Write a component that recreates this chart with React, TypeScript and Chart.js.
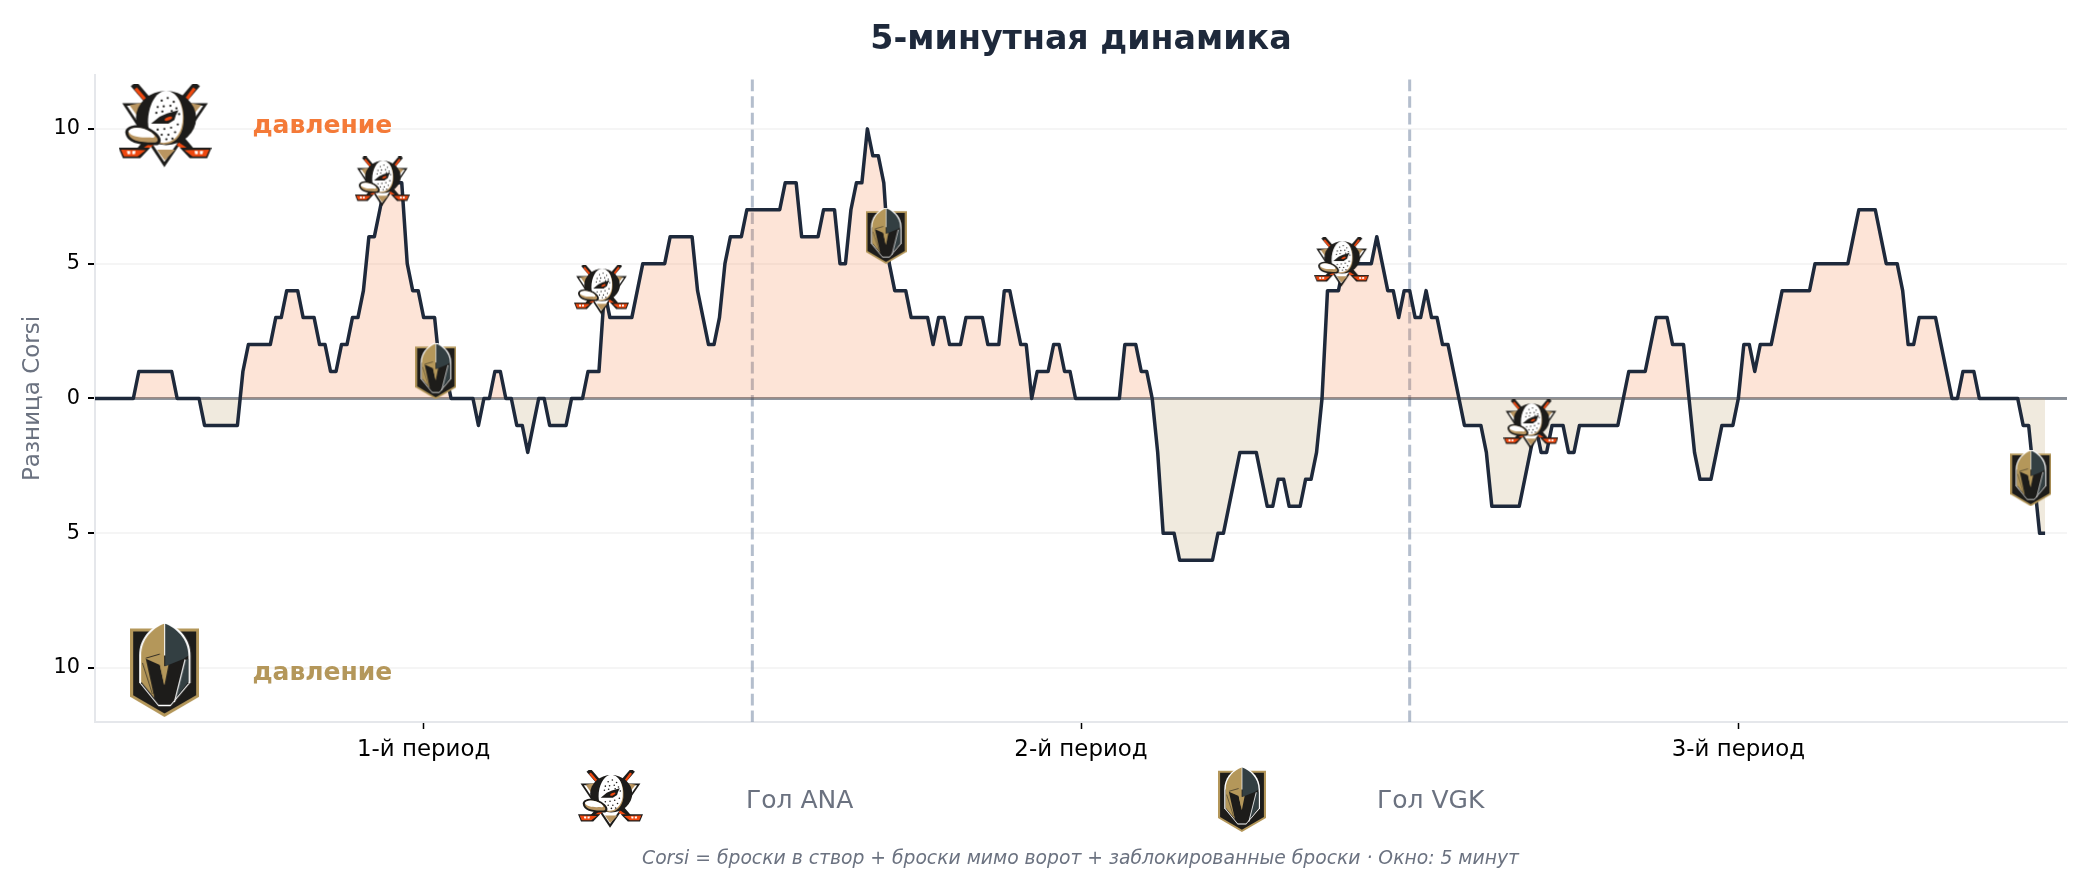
import React, { useEffect, useRef } from "react";
import { Chart, registerables } from "chart.js";

Chart.register(...registerables);

const TITLE = "5-минутная динамика";
const Y_TITLE = "Разница Corsi";
const FOOTNOTE = "Corsi = броски в створ + броски мимо ворот + заблокированные броски · Окно: 5 минут";
const PRESSURE = "давление";
const LEGEND_ANA = "Гол ANA";
const LEGEND_VGK = "Гол VGK";

const SAMPLES_PER_MINUTE = 6;
const corsiDiff = [
  0,0,0,0,0,0,0,0,1,1,1,1,1,1,1,0,0,0,0,0,
  -1,-1,-1,-1,-1,-1,-1,1,2,2,2,2,2,3,3,4,4,4,3,3,
  3,2,2,1,1,2,2,3,3,4,6,6,7,8,8,8,8,5,4,4,
  3,3,3,1,1,0,0,0,0,0,-1,0,0,1,1,0,0,-1,-1,-2,
  -1,0,0,-1,-1,-1,-1,0,0,0,1,1,1,4,3,3,3,3,3,4,
  5,5,5,5,5,6,6,6,6,6,4,3,2,2,3,5,6,6,6,7,
  7,7,7,7,7,7,8,8,8,6,6,6,6,7,7,7,5,5,7,8,
  8,10,9,9,8,5,4,4,4,3,3,3,3,2,3,3,2,2,2,3,
  3,3,3,2,2,2,4,4,3,2,2,0,1,1,1,2,2,1,1,0,
  0,0,0,0,0,0,0,0,2,2,2,1,1,0,-2,-5,-5,-5,-6,-6,
  -6,-6,-6,-6,-6,-5,-5,-4,-3,-2,-2,-2,-2,-3,-4,-4,-3,-3,-4,-4,
  -4,-3,-3,-2,0,4,4,4,5,5,5,5,5,5,6,5,4,4,3,4,
  4,3,3,4,3,3,2,2,1,0,-1,-1,-1,-1,-2,-4,-4,-4,-4,-4,
  -4,-3,-2,-1,-2,-2,-1,-1,-1,-2,-2,-1,-1,-1,-1,-1,-1,-1,-1,0,
  1,1,1,1,2,3,3,3,2,2,2,0,-2,-3,-3,-3,-2,-1,-1,-1,
  0,2,2,1,2,2,2,3,4,4,4,4,4,4,5,5,5,5,5,5,
  5,6,7,7,7,7,6,5,5,5,4,2,2,3,3,3,3,2,1,0,
  0,1,1,1,0,0,0,0,0,0,0,0,-1,-1,-3,-5,-5,
];

const anaGoalMinutes = [8.74, 15.41, 37.93, 43.69];
const anaGoalValues = [8.05, 4.04, 5.06, -0.96];
const vgkGoalMinutes = [10.37, 24.07, 58.9];
const vgkGoalValues = [1.01, 6.03, -2.96];

const periodBreaks = [20, 40];
const periodTickMinutes = [10, 30, 50];
const periodLabels = ["1-й период", "2-й период", "3-й период"];
const yTickValues = [-10, -5, 0, 5, 10];

const ANA = "#F47A38";
const VGK = "#B4975A";
const INK = "#1e293b";
const MUTED = "#6b7280";
const FONT = '"DejaVu Sans"';

type Ctx = CanvasRenderingContext2D;

function poly(c: Ctx, pts: number[], fill: string) {
  c.beginPath();
  c.moveTo(pts[0], pts[1]);
  for (let i = 2; i < pts.length; i += 2) c.lineTo(pts[i], pts[i + 1]);
  c.closePath();
  c.fillStyle = fill;
  c.fill();
}
function seg(c: Ctx, x0: number, y0: number, x1: number, y1: number, w: number, col: string) {
  c.beginPath();
  c.moveTo(x0, y0);
  c.lineTo(x1, y1);
  c.lineWidth = w;
  c.strokeStyle = col;
  c.lineCap = "butt";
  c.stroke();
}

function drawDuck(c: Ctx) {
  const K = "#1d1c1a", O = "#F0480F", T = "#b99560", W = "#ffffff";
  c.translate(-55, -24);
  c.scale(1, 0.94);
  // triangle behind
  poly(c, [66, 86, 322, 86, 192, 285], K);
  poly(c, [80, 94, 308, 94, 192, 268], W);
  poly(c, [88, 92, 128, 84, 110, 125], T);
  poly(c, [262, 84, 302, 92, 278, 122], T);
  poly(c, [170, 230, 224, 230, 193, 264], T);
  // sticks
  seg(c, 100, 26, 275, 238, 22, K);
  seg(c, 290, 26, 115, 238, 22, K);
  seg(c, 106, 40, 158, 104, 10, O);
  seg(c, 282, 40, 240, 100, 10, O);
  seg(c, 232, 212, 272, 240, 11, O);
  seg(c, 156, 212, 118, 240, 11, O);
  // blades
  poly(c, [55, 224, 150, 224, 120, 257, 68, 257], K);
  poly(c, [62, 230, 136, 232, 112, 251, 71, 251], O);
  poly(c, [80, 234, 90, 234, 90, 244, 82, 244], W);
  poly(c, [96, 234, 106, 234, 104, 244, 96, 244], W);
  poly(c, [333, 224, 238, 224, 268, 257, 320, 257], K);
  poly(c, [326, 230, 252, 232, 276, 251, 317, 251], O);
  poly(c, [282, 234, 292, 234, 292, 244, 284, 244], W);
  poly(c, [298, 234, 308, 234, 306, 244, 298, 244], W);
  // disc
  c.beginPath();
  c.ellipse(197, 132, 90, 84, 0, 0, Math.PI * 2);
  c.fillStyle = K;
  c.fill();
  // egg
  const egg = (dx: number, dy: number, col: string) => {
    c.beginPath();
    c.moveTo(200 + dx, 52 + dy);
    c.bezierCurveTo(238 + dx, 54 + dy, 254 + dx, 105 + dy, 249 + dx, 150 + dy);
    c.bezierCurveTo(244 + dx, 195 + dy, 216 + dx, 215 + dy, 190 + dx, 214 + dy);
    c.bezierCurveTo(164 + dx, 212 + dy, 146 + dx, 185 + dy, 146 + dx, 150 + dy);
    c.bezierCurveTo(146 + dx, 100 + dy, 168 + dx, 54 + dy, 200 + dx, 52 + dy);
    c.closePath();
    c.fillStyle = col;
    c.fill();
  };
  egg(0, 0, T);
  egg(-3, -5, W);
  // bill
  c.beginPath();
  c.moveTo(75, 176);
  c.bezierCurveTo(78, 150, 125, 148, 155, 168);
  c.bezierCurveTo(180, 184, 190, 205, 172, 216);
  c.bezierCurveTo(125, 218, 78, 212, 75, 176);
  c.closePath();
  c.fillStyle = K;
  c.fill();
  c.beginPath();
  c.moveTo(84, 178);
  c.bezierCurveTo(88, 158, 125, 158, 152, 176);
  c.bezierCurveTo(172, 190, 178, 204, 165, 208);
  c.bezierCurveTo(125, 208, 88, 204, 84, 178);
  c.closePath();
  c.fillStyle = T;
  c.fill();
  c.beginPath();
  c.moveTo(84, 174);
  c.bezierCurveTo(90, 158, 125, 158, 152, 176);
  c.bezierCurveTo(168, 188, 165, 196, 150, 192);
  c.bezierCurveTo(125, 194, 92, 192, 84, 174);
  c.closePath();
  c.fillStyle = W;
  c.fill();
  // brow and eye
  poly(c, [152, 150, 178, 128, 200, 118, 234, 108, 226, 124, 222, 138, 204, 150, 176, 150], K);
  c.beginPath();
  c.ellipse(204, 134, 12, 5, -0.4, 0, Math.PI * 2);
  c.fillStyle = O;
  c.fill();
  // freckles
  c.fillStyle = K;
  const spots = [
    [184, 78], [202, 70], [220, 82], [172, 98], [190, 96], [210, 94], [228, 102], [168, 116],
    [186, 112], [214, 110], [236, 120], [172, 168], [192, 166], [212, 162], [232, 152], [184, 184],
    [204, 184], [224, 176], [198, 198], [216, 196],
  ];
  for (const s of spots) {
    c.beginPath();
    c.arc(s[0], s[1], 3.4, 0, Math.PI * 2);
    c.fill();
  }
}

function drawKnight(c: Ctx) {
  const K = "#1d1c1a", G = "#B4975A", S = "#333F42", W = "#ffffff";
  c.translate(-15, -22);
  poly(c, [15, 38, 222, 38, 222, 240, 118, 300, 15, 240], G);
  poly(c, [24, 47, 213, 47, 213, 236, 118, 290, 24, 236], K);
  // white halo of the helmet
  c.beginPath();
  c.moveTo(118, 18);
  c.bezierCurveTo(80, 32, 42, 65, 42, 118);
  c.lineTo(42, 198);
  c.lineTo(100, 268);
  c.lineTo(136, 268);
  c.lineTo(196, 198);
  c.lineTo(196, 118);
  c.bezierCurveTo(196, 65, 158, 32, 118, 18);
  c.closePath();
  c.fillStyle = W;
  c.fill();
  // inner black mass under the visor
  poly(c, [48, 118, 190, 118, 190, 200, 136, 264, 100, 264, 48, 200], K);
  // dome, gold half
  c.beginPath();
  c.moveTo(117, 24);
  c.bezierCurveTo(84, 36, 48, 68, 48, 118);
  c.lineTo(48, 196);
  c.lineTo(88, 244);
  c.lineTo(62, 128);
  c.lineTo(104, 146);
  c.lineTo(117, 206);
  c.closePath();
  c.fillStyle = G;
  c.fill();
  // dome, slate half
  c.beginPath();
  c.moveTo(120, 24);
  c.bezierCurveTo(152, 36, 190, 68, 190, 118);
  c.lineTo(176, 128);
  c.lineTo(130, 146);
  c.lineTo(120, 150);
  c.closePath();
  c.fillStyle = S;
  c.fill();
  // nose guard
  poly(c, [104, 146, 120, 150, 130, 146, 118, 206], G);
  // right cheek
  poly(c, [190, 128, 190, 196, 150, 246, 180, 132], S);
  seg(c, 180, 130, 148, 256, 3.5, W);
  // thin shading on the gold
  seg(c, 62, 126, 104, 114, 2.5, K);
  seg(c, 52, 140, 82, 232, 2, K);
}

function makeLogo(draw: (c: Ctx) => void, w: number, h: number, bw: number, bh: number) {
  const cv = document.createElement("canvas");
  cv.width = w;
  cv.height = h;
  const c = cv.getContext("2d") as Ctx;
  c.scale(w / bw, h / bh);
  draw(c);
  return cv;
}
const duckLogo = (w: number, h: number) => makeLogo(drawDuck, w, h, 278, 245);
const knightLogo = (w: number, h: number) => makeLogo(drawKnight, w, h, 207, 278);

export default function App() {
  const ref = useRef<HTMLCanvasElement | null>(null);

  useEffect(() => {
    if (!ref.current) return;
    const overlay = {
      id: "overlay",
      afterDraw(chart: any) {
        const c: Ctx = chart.ctx;
        const { x, y } = chart.scales;
        c.save();
        c.textBaseline = "middle";
        c.textAlign = "left";
        c.font = `bold 25px ${FONT}`;
        c.fillStyle = ANA;
        c.fillText(PRESSURE, x.getPixelForValue(4.79), y.getPixelForValue(10.1));
        c.fillStyle = VGK;
        c.fillText(PRESSURE, x.getPixelForValue(4.79), y.getPixelForValue(-10.2));
        c.font = `25px ${FONT}`;
        c.fillStyle = MUTED;
        c.fillText(LEGEND_ANA, 746, 801);
        c.fillText(LEGEND_VGK, 1377, 801);
        c.textAlign = "center";
        c.font = `italic 18.75px ${FONT}`;
        c.fillText(FOOTNOTE, 1080.5, 859);
        const d = duckLogo(65, 58);
        c.drawImage(d, 578, 770);
        const k = knightLogo(48, 65);
        c.drawImage(k, 1218, 767);
        c.restore();
      },
    };

    const chart = new Chart(ref.current, {
      type: "line",
      plugins: [overlay],
      data: {
        datasets: [
          {
            type: "scatter",
            label: "Гол ANA",
            data: anaGoalMinutes.map((m, i) => ({ x: m, y: anaGoalValues[i] })),
            pointStyle: duckLogo(55, 50),
            pointRadius: 10,
            showLine: false,
            clip: false,
            order: 0,
          },
          {
            type: "scatter",
            label: "Гол VGK",
            data: vgkGoalMinutes.map((m, i) => ({ x: m, y: vgkGoalValues[i] })),
            pointStyle: knightLogo(41, 56),
            pointRadius: 10,
            showLine: false,
            clip: false,
            order: 0,
          },
          {
            type: "scatter",
            label: "ANA",
            data: [{ x: 2.13, y: 10.12 }],
            pointStyle: duckLogo(93, 84),
            pointRadius: 10,
            showLine: false,
            order: 0,
          },
          {
            type: "scatter",
            label: "VGK",
            data: [{ x: 2.12, y: -10.07 }],
            pointStyle: knightLogo(69, 94),
            pointRadius: 10,
            showLine: false,
            order: 0,
          },
          {
            label: "Corsi",
            data: corsiDiff.map((v, i) => ({ x: i / SAMPLES_PER_MINUTE, y: v })),
            borderColor: INK,
            borderWidth: 3.5,
            borderJoinStyle: "round",
            pointRadius: 0,
            tension: 0,
            fill: {
              target: { value: 0 },
              above: "rgba(244,122,56,0.2)",
              below: "rgba(180,151,90,0.2)",
            },
            order: 1,
          },
          {
            label: "Ноль",
            data: [{ x: 0, y: 0 }, { x: 60, y: 0 }],
            borderColor: "rgba(30,41,59,0.5)",
            borderWidth: 3,
            pointRadius: 0,
            order: 2,
          },
          ...periodBreaks.map((m) => ({
            label: "Период",
            data: [{ x: m, y: -12 }, { x: m, y: 12 }],
            borderColor: "rgba(148,163,184,0.7)",
            borderWidth: 3,
            borderDash: [11.6, 5],
            pointRadius: 0,
            order: 3,
          })),
        ] as any,
      },
      options: {
        responsive: false,
        devicePixelRatio: 1,
        animation: false,
        layout: { padding: { left: 0, right: 26, top: 0, bottom: 118 } },
        plugins: {
          legend: { display: false },
          tooltip: { enabled: false },
          title: {
            display: true,
            text: TITLE,
            color: INK,
            fullSize: false,
            font: { family: FONT, size: 33.3, weight: "bold" },
            padding: { top: 20, bottom: 15 },
          },
        },
        scales: {
          x: {
            type: "linear",
            min: 0,
            max: 60,
            afterFit: (s: any) => { s.height = 50; },
            afterBuildTicks: (s: any) => { s.ticks = periodTickMinutes.map((value) => ({ value })); },
            grid: { drawOnChartArea: false, tickColor: "#000", tickWidth: 1.5, tickLength: 7 },
            border: { color: "#e5e7eb", width: 2 },
            ticks: {
              color: "#000",
              font: { family: FONT, size: 22.9 },
              padding: 7,
              maxRotation: 0,
              autoSkip: false,
              callback: (v: any) => periodLabels[periodTickMinutes.indexOf(Number(v))],
            },
          },
          y: {
            type: "linear",
            min: -12,
            max: 12,
            afterFit: (s: any) => { s.width = 95; },
            afterBuildTicks: (s: any) => { s.ticks = yTickValues.map((value) => ({ value })); },
            grid: { color: "#f5f5f5", lineWidth: 2, tickColor: "#000", tickWidth: 2, tickLength: 7 },
            border: { color: "#e5e7eb", width: 2 },
            title: {
              display: true,
              text: Y_TITLE,
              color: MUTED,
              font: { family: FONT, size: 23, weight: "normal" },
              padding: { top: 19, bottom: 0 },
            },
            ticks: {
              color: "#000",
              font: { family: FONT, size: 20.8 },
              padding: 8,
              callback: (v: any) => String(Math.abs(Number(v))),
            },
          },
        },
      } as any,
    });
    return () => chart.destroy();
  }, []);

  return (
    <div style={{ position: "fixed", inset: 0, background: "#fff" }}>
      <canvas ref={ref} width={2093} height={890} style={{ display: "block" }} />
    </div>
  );
}
